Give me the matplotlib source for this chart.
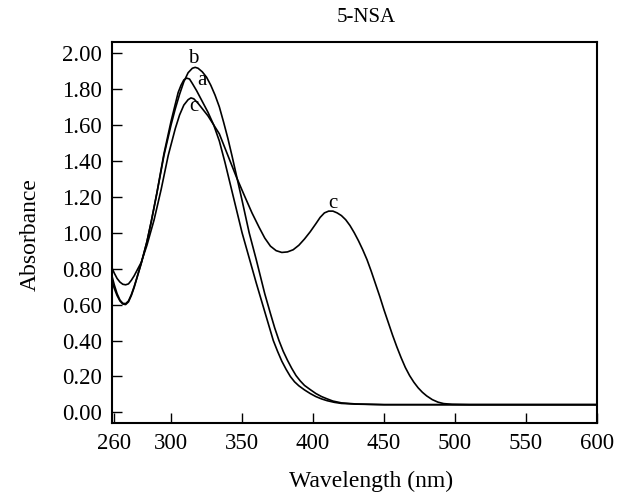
import matplotlib
matplotlib.use("Agg")
import matplotlib.pyplot as plt
import numpy as np

plt.rcParams['font.family'] = ['Liberation Serif', 'DejaVu Serif']

# ---- data ----
wl_a = [258, 260, 262, 264, 266, 268, 270, 272, 274, 276, 279, 283, 286, 290, 295, 300,
        305, 307, 309, 311, 313, 315, 318, 322, 326, 330, 334, 338, 342, 346, 350, 355,
        360, 363, 366, 369, 372, 375, 378, 381, 384, 387, 390, 394, 398, 402, 406, 410,
        415, 420, 430, 450, 600]
abs_a = [0.77, 0.71, 0.66, 0.625, 0.607, 0.605, 0.62, 0.655, 0.70, 0.75, 0.83, 0.95, 1.06, 1.22, 1.44, 1.62,
         1.78, 1.82, 1.85, 1.86, 1.855, 1.83, 1.79, 1.73, 1.67, 1.60, 1.51, 1.39, 1.26, 1.13, 1.00, 0.86,
         0.72, 0.64, 0.56, 0.48, 0.40, 0.34, 0.285, 0.24, 0.20, 0.17, 0.148, 0.125, 0.105, 0.088, 0.075, 0.065,
         0.056, 0.050, 0.046, 0.043, 0.043]

wl_b = [258, 260, 262, 264, 266, 268, 270, 272, 274, 276, 279, 283, 286, 290, 295, 300,
        303, 306, 309, 312, 315, 317, 319, 322, 325, 328, 331, 334, 337, 340, 343, 346,
        350, 355, 360, 363, 366, 370, 373, 376, 379, 382, 385, 388, 391, 394, 398, 402,
        406, 410, 414, 420, 430, 450, 600]
abs_b = [0.74, 0.69, 0.65, 0.62, 0.603, 0.60, 0.615, 0.65, 0.695, 0.75, 0.83, 0.95, 1.06, 1.22, 1.43, 1.60,
         1.69, 1.77, 1.84, 1.89, 1.915, 1.92, 1.915, 1.895, 1.865, 1.82, 1.765, 1.70, 1.615, 1.525, 1.425, 1.32,
         1.18, 1.00, 0.85, 0.755, 0.66, 0.55, 0.47, 0.40, 0.34, 0.29, 0.245, 0.205, 0.175, 0.15, 0.127, 0.105,
         0.088, 0.075, 0.063, 0.053, 0.047, 0.043, 0.043]

wl_c = [258, 260, 262, 264, 266, 268, 270, 272, 274, 276, 279, 283, 288, 293, 298, 303,
        306, 309, 312, 314, 316, 319, 322, 326, 330, 334, 340, 346, 352, 357, 362, 366,
        370, 374, 378, 382, 386, 390, 394, 398, 402, 405, 408, 411, 414, 417, 420, 423,
        426, 429, 432, 435, 438, 441, 444, 447, 450, 453, 456, 459, 462, 465, 468, 471,
        474, 477, 480, 484, 488, 492, 498, 510, 600]
abs_c = [0.81, 0.775, 0.745, 0.725, 0.713, 0.71, 0.715, 0.735, 0.76, 0.79, 0.835, 0.93, 1.07, 1.24, 1.43, 1.58,
         1.655, 1.71, 1.74, 1.75, 1.745, 1.72, 1.69, 1.65, 1.60, 1.55, 1.43, 1.31, 1.20, 1.11, 1.03, 0.97,
         0.925, 0.90, 0.89, 0.893, 0.905, 0.93, 0.965, 1.005, 1.05, 1.085, 1.11, 1.12, 1.12, 1.11, 1.095, 1.072,
         1.04, 1.00, 0.955, 0.905, 0.85, 0.785, 0.715, 0.645, 0.57, 0.50, 0.43, 0.365, 0.305, 0.25, 0.205, 0.168,
         0.137, 0.112, 0.092, 0.071, 0.057, 0.049, 0.045, 0.043, 0.043]

x_ticks = [260, 300, 350, 400, 450, 500, 550, 600]
y_ticks = [0.0, 0.2, 0.4, 0.6, 0.8, 1.0, 1.2, 1.4, 1.6, 1.8, 2.0]
curve_labels = ['a', 'b', 'c', 'c']
label_pos_x = [322.0, 315.5, 316.0, 414.0]
label_pos_y = [1.848, 1.969, 1.704, 1.163]

# ---- figure ----
W, H = 626, 495
fig = plt.figure(figsize=(W / 100, H / 100), dpi=100)
ax = fig.add_axes([112 / W, 1 - 423 / H, (597 - 112) / W, (423 - 42) / H])

lw = 1.2
for wl, ab in [(wl_a, abs_a), (wl_b, abs_b), (wl_c, abs_c)]:
    ax.plot(wl, ab, color='black', lw=lw, solid_joinstyle='round')

for t, lx, ly in zip(curve_labels, label_pos_x, label_pos_y):
    ax.text(lx, ly, t, fontsize=15, ha='center', va='center', color='black')

ax.set_xlim(258.4, 600)
ax.set_ylim(-0.059, 2.061)
ax.set_xticks(x_ticks)
ax.set_xticklabels([str(v) for v in x_ticks])
ax.set_yticks(y_ticks)
ax.set_yticklabels([f"{v:.2f}" for v in y_ticks])
ax.tick_params(direction='in', length=7, width=1.0, labelsize=16.5, colors='black')
ax.tick_params(axis='x', pad=7)
ax.tick_params(axis='y', pad=7)
for s in ax.spines.values():
    s.set_linewidth(1.5)

fig.text(366 / W, 1 - 18 / H, '5-NSA', fontsize=15, ha='center', va='center')
fig.text(371 / W, 1 - 481 / H, 'Wavelength (nm)', fontsize=17, ha='center', va='center')
fig.text(30 / W, 1 - 235 / H, 'Absorbance', fontsize=17, ha='center', va='center', rotation=90)

fig.savefig('out.png', dpi=100)
